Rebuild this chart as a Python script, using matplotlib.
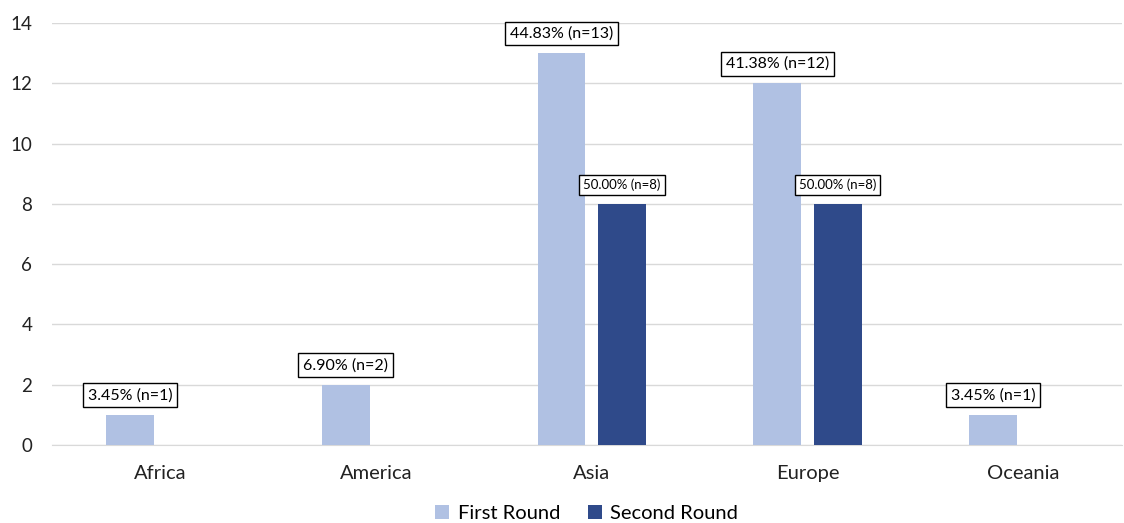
import numpy as np
import matplotlib
matplotlib.use("Agg")
import matplotlib.pyplot as plt

# donnees par continent
regions = ["Africa", "America", "Asia", "Europe", "Oceania"]
premier_tour = [1, 2, 13, 12, 1]
second_tour = [0, 0, 8, 8, 0]
series = ["First Round", "Second Round"]
couleurs = ["#B0C1E3", "#2F4A8A"]

plt.rcParams['font.family'] = ['Lato', 'DejaVu Sans']

fig = plt.figure(figsize=(11.24, 5.23), dpi=100)
ax = fig.add_axes([0.046, 0.149, 0.952, 0.807])

x = np.arange(len(regions))
largeur = 0.222
decalage = 0.14

b1 = ax.bar(x - decalage, premier_tour, largeur, color=couleurs[0], label=series[0], zorder=3)
b2 = ax.bar(x + decalage, second_tour, largeur, color=couleurs[1], label=series[1], zorder=3)

# etiquettes : pourcentage du total de chaque tour
def etiquettes(barres, valeurs, taille):
    total = sum(valeurs)
    for barre, v in zip(barres, valeurs):
        if v == 0:
            continue
        txt = "%.2f%% (n=%d)" % (v / total * 100, v)
        ax.annotate(txt, (barre.get_x() + barre.get_width() / 2, v),
                    xytext=(0, 9), textcoords="offset points",
                    ha="center", va="bottom", fontsize=taille, zorder=5,
                    bbox=dict(boxstyle="square,pad=0.3", fc="white", ec="black", lw=1))

etiquettes(b1, premier_tour, 11.5)
etiquettes(b2, second_tour, 9.5)

ax.set_ylim(0, 14)
ax.set_xlim(-0.502, 4.456)
ax.set_yticks(range(0, 15, 2))
ax.set_xticks(x)
ax.set_xticklabels(regions)
ax.tick_params(axis="both", length=0, colors="#222222")
ax.tick_params(axis="x", pad=14, labelsize=14.5)
ax.tick_params(axis="y", pad=14, labelsize=13.5)
ax.grid(axis="y", color="#D9D9D9", lw=1, zorder=0)
for s in ["top", "right", "left"]:
    ax.spines[s].set_visible(False)
ax.spines["bottom"].set_color("#D9D9D9")

ax.legend(loc="upper center", bbox_to_anchor=(0.5, -0.114), ncol=2, frameon=False,
          fontsize=14.5, handlelength=0.7, handleheight=0.7, handletextpad=0.4,
          columnspacing=1.4, borderaxespad=0.2)

fig.savefig("out.png", dpi=100)
